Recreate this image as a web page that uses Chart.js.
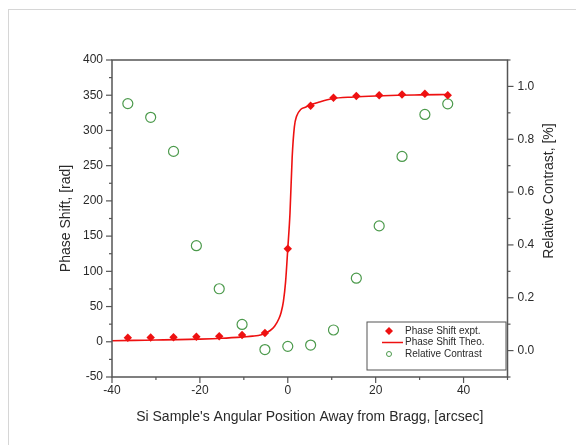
<!DOCTYPE html>
<html lang="en">
<head>
    <meta charset="UTF-8">
    <title>Phase Shift vs Angular Position</title>
    <script src="https://cdn.jsdelivr.net/npm/chart.js"></script>
    <style>
        body {
            margin: 0;
            background-color: white;
        }

        .frame {
            position: absolute;
            left: 8px;
            top: 9px;
            width: 600px;
            height: 500px;
            border-left: 1px solid #d6d6d6;
            border-top: 1px solid #d6d6d6;
        }

        #chart {
            position: absolute;
            left: 0;
            top: 0;
        }
    </style>
</head>
<body>
    <div class="frame"></div>
    <canvas id="chart" width="576" height="445"></canvas>

    <script>
        // Measured points (arcsec)
        const angleX = [-36.4, -31.2, -26.0, -20.8, -15.6, -10.4, -5.2, 0, 5.2, 10.4, 15.6, 20.8, 26.0, 31.2, 36.4];
        const phaseExpt = [5.8, 6.0, 6.4, 7.2, 7.8, 9.7, 12.5, 132, 335, 346.5, 349, 350, 351, 352, 350];
        const contrast = [0.935, 0.883, 0.754, 0.397, 0.234, 0.099, 0.004, 0.016, 0.021, 0.078, 0.274, 0.472, 0.735, 0.894, 0.934];

        // Theoretical curve
        const theoX = [-40, -35, -30, -25, -20, -15, -10, -8, -6, -5, -4, -3, -2, -1.5, -1, -0.5, 0, 0.5, 1, 1.5, 2, 3, 4, 5, 7, 10, 15, 20, 25, 30, 36.4];
        const theoY = [1.5, 2, 2.5, 3, 3.8, 5, 7, 8, 10, 12.5, 16, 22, 33, 42, 57, 85, 132, 182, 262, 305, 320, 330, 333, 336, 340, 345, 347.5, 349, 350, 350.5, 351];

        // Tick labels
        const xTicks = [-40, -20, 0, 20, 40];
        const phaseTicks = [-50, 0, 50, 100, 150, 200, 250, 300, 350, 400];
        const contrastTicks = [0, 0.2, 0.4, 0.6, 0.8, 1.0];

        const toXY = (xs, ys) => xs.map((x, i) => ({ x: x, y: ys[i] }));
        const setTicks = (vals) => (s) => { s.ticks = vals.map((v) => ({ value: v })); };

        const textColor = '#2a2a2a';
        const axisColor = '#555';
        const red = '#ee1111';
        const green = '#4c9a4c';

        // frame, outward tick marks, right title and the inside legend
        const frameTicks = {
            id: 'frameTicks',
            afterDraw(chart) {
                const { ctx, chartArea: a, scales } = chart;
                ctx.save();
                ctx.strokeStyle = axisColor;
                ctx.lineWidth = 1.5;
                ctx.strokeRect(a.left, a.top, a.right - a.left, a.bottom - a.top);

                ctx.lineWidth = 1.2;
                const drawTicks = (scale, step, side) => {
                    const half = step / 2;
                    const first = Math.ceil(scale.min / half - 1e-9);
                    const last = Math.floor(scale.max / half + 1e-9);
                    for (let k = first; k <= last; k++) {
                        const v = k * half;
                        const len = (k % 2 === 0) ? 6 : 3;
                        const p = scale.getPixelForValue(v);
                        ctx.beginPath();
                        if (side === 'left') { ctx.moveTo(a.left, p); ctx.lineTo(a.left - len, p); }
                        if (side === 'right') { ctx.moveTo(a.right, p); ctx.lineTo(a.right + len, p); }
                        if (side === 'bottom') { ctx.moveTo(p, a.bottom); ctx.lineTo(p, a.bottom + len); }
                        ctx.stroke();
                    }
                };
                drawTicks(scales.x, 20, 'bottom');
                drawTicks(scales.y, 50, 'left');
                drawTicks(scales.y2, 0.2, 'right');

                // right axis title reads bottom to top
                ctx.fillStyle = textColor;
                ctx.font = '14px "Liberation Sans", Arial, sans-serif';
                ctx.translate(549, 191);
                ctx.rotate(-Math.PI / 2);
                ctx.textAlign = 'center';
                ctx.textBaseline = 'middle';
                ctx.fillText('Relative Contrast, [%]', 0, 0);
                ctx.restore();

                // legend box in the lower right corner
                ctx.save();
                const bx = 367, by = 322, bw = 139, bh = 48;
                ctx.fillStyle = 'white';
                ctx.fillRect(bx, by, bw, bh);
                ctx.strokeStyle = '#555';
                ctx.lineWidth = 1;
                ctx.strokeRect(bx, by, bw, bh);
                ctx.font = '10px "Liberation Sans", Arial, sans-serif';
                ctx.textBaseline = 'middle';
                chart.data.datasets.forEach((ds, i) => {
                    const cy = by + 9 + i * 11.5;
                    const cx = 389;
                    ctx.strokeStyle = ds.borderColor;
                    ctx.fillStyle = ds.borderColor;
                    if (ds.showLine) {
                        ctx.lineWidth = 1.5;
                        ctx.beginPath();
                        ctx.moveTo(cx - 7, cy);
                        ctx.lineTo(cx + 14, cy);
                        ctx.stroke();
                    } else if (ds.pointStyle === 'rectRot') {
                        ctx.beginPath();
                        ctx.moveTo(cx, cy - 4);
                        ctx.lineTo(cx + 4, cy);
                        ctx.lineTo(cx, cy + 4);
                        ctx.lineTo(cx - 4, cy);
                        ctx.closePath();
                        ctx.fill();
                    } else {
                        ctx.lineWidth = 1;
                        ctx.beginPath();
                        ctx.arc(cx, cy, 2.5, 0, Math.PI * 2);
                        ctx.stroke();
                    }
                    ctx.fillStyle = textColor;
                    ctx.fillText(ds.label, 405, cy);
                });
                ctx.restore();
            }
        };

        const font = { family: '"Liberation Sans", Arial, sans-serif', size: 12 };
        const titleFont = { family: '"Liberation Sans", Arial, sans-serif', size: 14 };

        new Chart(document.getElementById('chart'), {
            type: 'scatter',
            data: {
                datasets: [
                    {
                        label: 'Phase Shift expt.',
                        data: toXY(angleX, phaseExpt),
                        yAxisID: 'y',
                        pointStyle: 'rectRot',
                        pointRadius: 4.2,
                        borderColor: red,
                        backgroundColor: red,
                        borderWidth: 0
                    },
                    {
                        label: 'Phase Shift Theo.',
                        data: toXY(theoX, theoY),
                        yAxisID: 'y',
                        showLine: true,
                        pointRadius: 0,
                        borderColor: red,
                        borderWidth: 1.6,
                        cubicInterpolationMode: 'monotone'
                    },
                    {
                        label: 'Relative Contrast',
                        data: toXY(angleX, contrast),
                        yAxisID: 'y2',
                        pointStyle: 'circle',
                        pointRadius: 5,
                        borderColor: green,
                        backgroundColor: 'rgba(0,0,0,0)',
                        borderWidth: 1.2
                    }
                ]
            },
            options: {
                responsive: false,
                animation: false,
                layout: { padding: { top: 60 } },
                plugins: {
                    legend: { display: false },
                    tooltip: { enabled: false }
                },
                scales: {
                    x: {
                        type: 'linear',
                        min: -40,
                        max: 50,
                        grid: { display: false, tickLength: 5 },
                        border: { display: false },
                        ticks: { color: textColor, font: font, padding: 1 },
                        afterBuildTicks: setTicks(xTicks),
                        title: {
                            display: true,
                            text: "Si Sample's Angular Position Away from Bragg, [arcsec]",
                            color: textColor,
                            font: titleFont,
                            padding: { top: 0, bottom: 19 }
                        },
                        afterFit: (s) => { s.height = 68; }
                    },
                    y: {
                        position: 'left',
                        min: -50,
                        max: 400,
                        grid: { display: false, tickLength: 6 },
                        border: { display: false },
                        ticks: { color: textColor, font: font, padding: 3 },
                        afterBuildTicks: setTicks(phaseTicks),
                        title: {
                            display: true,
                            text: 'Phase Shift, [rad]',
                            color: textColor,
                            font: titleFont,
                            padding: { top: 58, bottom: 0 }
                        },
                        afterFit: (s) => { s.width = 112; }
                    },
                    y2: {
                        position: 'right',
                        min: -0.1,
                        max: 1.1,
                        grid: { display: false, tickLength: 6 },
                        border: { display: false },
                        ticks: {
                            color: textColor,
                            font: font,
                            padding: 4,
                            callback: (v) => v.toFixed(1)
                        },
                        afterBuildTicks: setTicks(contrastTicks),
                        afterFit: (s) => { s.width = 68.5; }
                    }
                }
            },
            plugins: [frameTicks]
        });
    </script>
</body>
</html>
